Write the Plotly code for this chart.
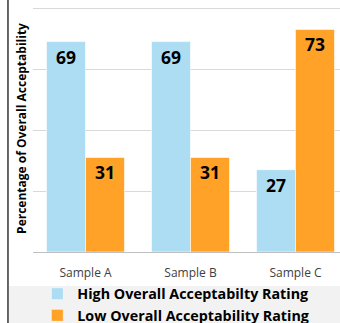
import plotly.graph_objects as go

# Data
samples = ["Sample A", "Sample B", "Sample C"]
high_rating = [69, 69, 27]
low_rating = [31, 31, 73]
series_names = ["High Overall Acceptabilty Rating", "Low Overall Acceptability Rating"]
axis_title = "Percentage of Overall Acceptability"

BLUE = "#ADDDF3"
ORANGE = "#FFA227"
FONT = "Open Sans"

fig = go.Figure()
for name, vals, col in [(series_names[0], high_rating, BLUE),
                        (series_names[1], low_rating, ORANGE)]:
    fig.add_trace(go.Bar(
        x=samples, y=vals, name=name,
        marker=dict(color=col, line=dict(color="white", width=0.6)),
        text=[str(v) for v in vals],
        texttemplate="<b>%{text}</b>",
        textposition="inside",
        insidetextanchor="end",
        textangle=0,
        textfont=dict(family=FONT, size=17.5, color="black"),
        cliponaxis=False,
    ))

# plot area: 252 px baseline, 3.05 px per unit
fig.update_layout(
    width=340, height=323,
    margin=dict(l=33, r=0, t=5, b=71, autoexpand=False),
    paper_bgcolor="white", plot_bgcolor="white",
    barmode="group", bargap=0.257, bargroupgap=0.0,
    font=dict(family=FONT, color="#404040"),
    showlegend=True,
    legend=dict(
        orientation="v", x=0.014, xanchor="left", y=-0.105, yanchor="top",
        bgcolor="rgba(0,0,0,0)",
        font=dict(family=FONT, size=14.3, color="black", weight="bold"),
        itemwidth=30, tracegroupgap=0,
    ),
    shapes=[
        # legend band
        dict(type="rect", xref="paper", yref="paper",
             x0=-0.078, x1=1.0, y0=-0.138, y1=-0.30,
             fillcolor="#F2F2F2", line=dict(width=0), layer="below"),
        # left frame line
        dict(type="line", xref="paper", yref="paper",
             x0=-0.0815, x1=-0.0815, y0=-0.30, y1=1.04,
             line=dict(color="black", width=1.2)),
    ],
)

fig.update_xaxes(
    range=[-0.5, 2.424], showgrid=False, showline=False,
    ticks="", ticklabelstandoff=12,
    tickfont=dict(family=FONT, size=12, color="#404040"),
)
fig.update_yaxes(
    range=[0, 81], dtick=20, showgrid=True, gridcolor="#D9D9D9", gridwidth=1,
    showticklabels=False, ticks="", zeroline=True, zerolinecolor="#BFBFBF",
    zerolinewidth=1.2,
    title=dict(text=f"<b>{axis_title}</b>", standoff=2,
               font=dict(family=FONT, size=12, color="black")),
)

fig.write_html("out.html")
